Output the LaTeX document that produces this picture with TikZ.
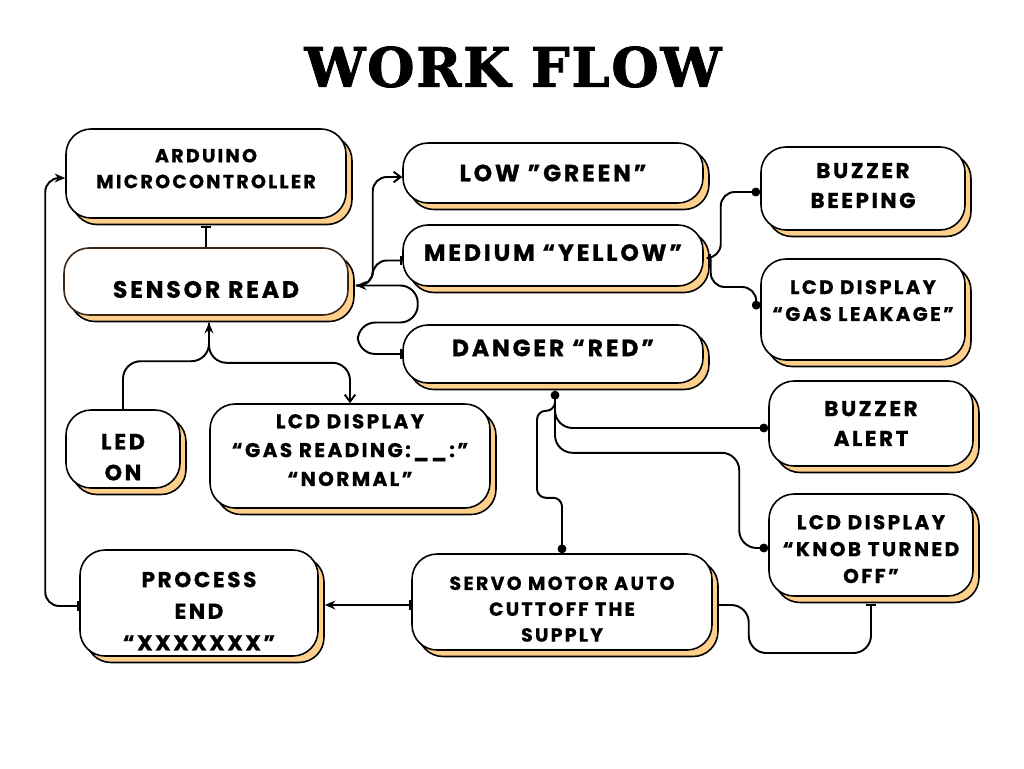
\documentclass[tikz,border=0pt]{standalone}
\usepackage{fontspec}
\usetikzlibrary{arrows.meta,shadows}
\newfontfamily\boxfont[LetterSpace=12, BoldFeatures={FakeBold=0.8}]{Poppins}
\newfontfamily\titlefont[LetterSpace=3, BoldFeatures={FakeBold=1.5}]{DejaVu Serif}
\definecolor{peach}{HTML}{FFD08C}
\definecolor{rim}{HTML}{3A2616}
\newcommand\lift[1]{\rule[-#1]{0pt}{#1}}
\newcommand\sink[1]{\rule{0pt}{\dimexpr 0.72em+#1\relax}}
\begin{document}
\begin{tikzpicture}
      [x=0.02cm, y=-0.02cm,
       box/.style={draw=black, line width=0.9pt, fill=white, rounded corners=0.5cm,
         align=center, inner sep=2pt,
         general shadow={shadow xshift=0.12cm, shadow yshift=-0.13cm, fill=peach,
           draw=black, line width=0.9pt},
         font=\boxfont\bfseries\fontsize{10.8}{14.7}\selectfont},
       big/.style={font=\boxfont\bfseries\fontsize{13.4}{15}\selectfont},
       link/.style={line width=1.1pt, rounded corners=8pt},
       tip/.style={-{Stealth[length=6pt, width=5pt]}},
       barb/.style={-{Straight Barb[length=4pt, width=6pt, line width=1.1pt]}},
       dot/.style={-{Circle[length=5pt]}}]
      \useasboundingbox[fill=white] (0,0) rectangle (1024,768);
      \node[font=\titlefont\bfseries\fontsize{31}{36}\selectfont](0) at (513,67) {WORK FLOW};

      \node[box, minimum width=5.6cm, minimum height=1.78cm](1) at (206,173.5) {ARDUINO\\MICROCONTROLLER\lift{0.2cm}};
      \node[box, big, draw=rim, minimum width=5.68cm, minimum height=1.34cm,
            text height=18.5pt, text depth=0pt](2) at (206,281.5) {SENSOR READ};
      \node[box, big, minimum width=6cm, minimum height=1.2cm](3) at (553,173) {LOW ”GREEN”};
      \node[box, big, minimum width=6cm, minimum height=1.22cm](4) at (553,255.5) {MEDIUM “YELLOW”\lift{0.12cm}};
      \node[box, big, minimum width=6cm, minimum height=1.16cm,
            text height=9.3pt, text depth=6.8pt](5) at (553,354) {DANGER “RED”};
      \node[box, font=\boxfont\bfseries\fontsize{12.2}{17}\selectfont,
            minimum width=4.08cm, minimum height=1.66cm](6) at (863,188.5) {BUZZER\\BEEPING\lift{0.12cm}};
      \node[box, font=\boxfont\bfseries\fontsize{11.2}{15.3}\selectfont,
            minimum width=4.08cm, minimum height=2.02cm](7) at (863,309.5) {LCD DISPLAY\\“GAS LEAKAGE”\lift{0.36cm}};
      \node[box, font=\boxfont\bfseries\fontsize{12.6}{17.6}\selectfont,
            minimum width=2.28cm, minimum height=1.56cm](8) at (123,449) {\sink{0.32cm}LED\\ON};
      \node[box, font=\boxfont\bfseries\fontsize{11.4}{16.4}\selectfont,
            minimum width=5.6cm, minimum height=2.08cm](9) at (350,456) {LCD DISPLAY\\“GAS READING:\_\_:”\\“NORMAL”\lift{0.24cm}};
      \node[box, font=\boxfont\bfseries\fontsize{12.2}{17}\selectfont,
            minimum width=4.08cm, minimum height=1.7cm](10) at (871,423.5) {BUZZER\\ALERT};
      \node[box, font=\boxfont\bfseries\fontsize{11.4}{15.3}\selectfont,
            minimum width=4.08cm, minimum height=2.04cm](11) at (871,545) {\sink{0.16cm}LCD DISPLAY\\“KNOB TURNED\\OFF”};
      \node[box, font=\boxfont\bfseries\fontsize{12.3}{18}\selectfont,
            minimum width=4.76cm, minimum height=2.12cm](12) at (199,603) {\sink{0.32cm}PROCESS\\END\\“XXXXXXX”};
      \node[box, minimum width=6cm, minimum height=1.92cm](13) at (562,602) {\sink{0.28cm}SERVO MOTOR AUTO\\CUTTOFF THE\\SUPPLY};

      \coordinate(s) at ([xshift=0.14cm, yshift=-0.08cm]2.east);
      \coordinate(b) at ([xshift=0.06cm, yshift=-0.14cm]2.south);
      \coordinate(m) at ([xshift=0.14cm, yshift=-0.05cm]4.east);
      \coordinate(d) at ([xshift=0.04cm, yshift=-0.14cm]5.south);

      \draw[link, -{Bar[width=6pt]}](2.north) -- ([yshift=-0.14cm]1.south);
      \draw[link, {Bar[width=6pt]}-{Stealth[length=6pt, width=5pt]}]([yshift=-0.06cm]12.west) -- ++(-34,0) |- ([yshift=-0.09cm]1.west);
      \draw[link, barb](s) -- ++(17,0) |- ([yshift=-0.08cm]3.west);
      \draw[link, {Stealth[length=6pt, width=5pt]}-{Bar[width=5pt]}](s) -- ++(17,0) |- ([yshift=-0.1cm]4.west);
      \draw[link, -{Bar[width=6pt]}, rounded corners=10pt](s) -- ++(62,0) -- ++(0,37) -- ++(-60,0) |- (5.west);
      \draw[link, tip, rounded corners=10pt](8.north) -- ++(0,-48) -| (b);
      \draw[link, barb, rounded corners=10pt](b) -- ++(0,40) -| (9.north);
      \draw[link, {Bar[width=5pt]}-{Circle[length=5pt]}](m) -- ++(10,0) |- ([yshift=-0.07cm]6.west);
      \draw[link, dot](m) |- ([xshift=-0.08cm, yshift=0.45cm]7.west) -- ([xshift=-0.08cm]7.west);
      \draw[link, {Circle[length=5pt]}-{Circle[length=5pt]}, rounded corners=10pt](d) |- ([yshift=-0.09cm]10.west);
      \draw[link, dot, rounded corners=10pt](d) -- ++(0,62) -| ([xshift=-0.58cm, yshift=-0.06cm]11.west) -- ([yshift=-0.06cm]11.west);
      \draw[link, dot, rounded corners=5pt](d) -- ++(0,20) -- ++(-18,0) -- ++(0,87) -| (13.north);
      \draw[link, -{Bar[width=6pt]}, rounded corners=10pt]([xshift=0.12cm, yshift=-0.06cm]13.east) -| ++(30,48) -| ([yshift=-0.14cm]11.south);
      \draw[link, {Bar[width=6pt]}-{Stealth[length=6pt, width=5pt]}]([yshift=-0.06cm]13.west) -- ([xshift=0.12cm, yshift=-0.04cm]12.east);
  \end{tikzpicture}
\end{document}
